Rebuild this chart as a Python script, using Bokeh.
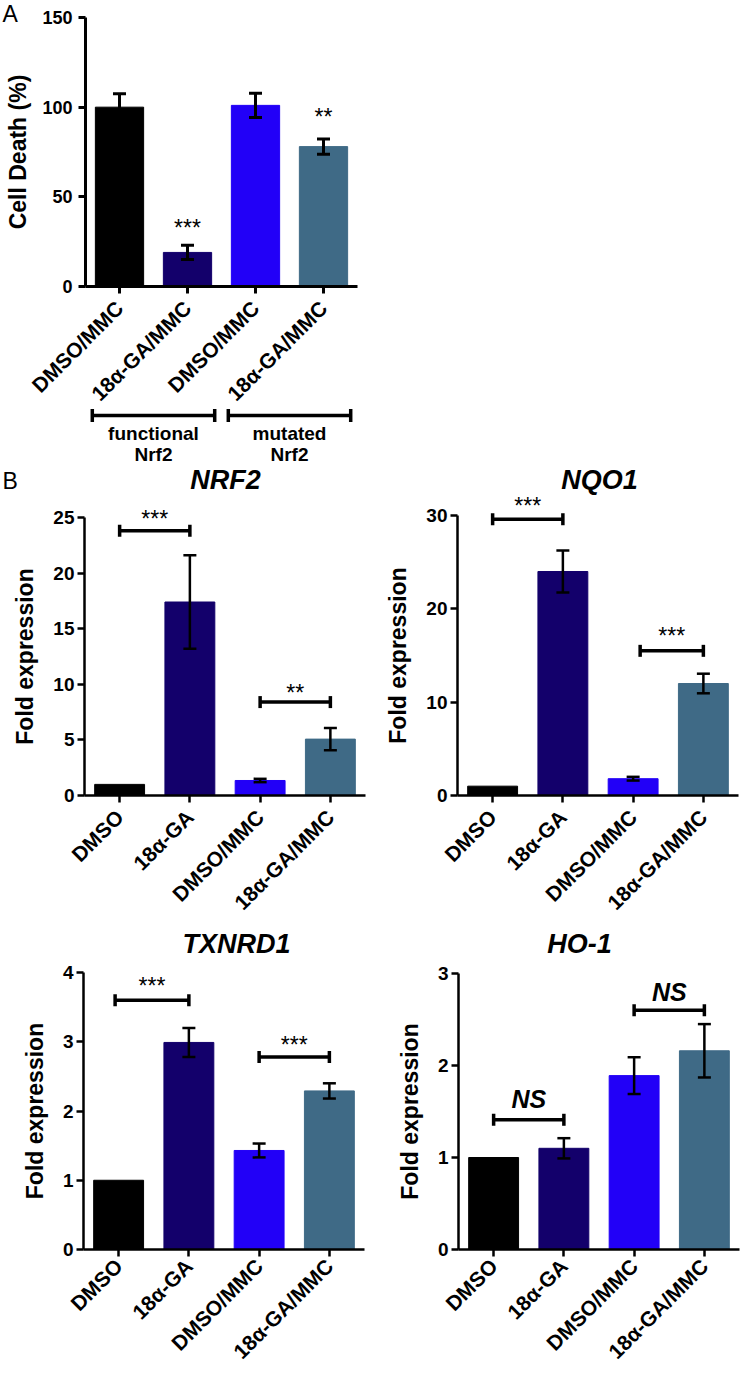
import math
from bokeh.plotting import figure
from bokeh.models import Range1d, FixedTicker, ColumnDataSource
from bokeh.layouts import column, row
from bokeh.core.properties import value
from bokeh.embed import file_html
from bokeh.resources import INLINE

FONT = "Liberation Sans"
COLORS = ["#000000", "#13006b", "#2200f7", "#3f6a86"]
XPOS = [1, 2, 3, 4]

# ---------------- Panel A data ----------------
a_labels = ["DMSO/MMC", "18α-GA/MMC", "DMSO/MMC", "18α-GA/MMC"]
a_values = [100, 19, 101, 78]
a_errors = [7.5, 4.0, 6.7, 4.2]
a_sig_x = [2, 4]
a_sig_y = [32.4, 94.3]
a_sig_text = ["***", "**"]
a_groups = ["functional", "mutated"]
a_groups_sub = ["Nrf2", "Nrf2"]
a_group_x0 = [0.6, 2.6]
a_group_x1 = [2.4, 4.4]
a_yticks = [0, 50, 100, 150]

# ---------------- Panel B data ----------------
b_labels = ["DMSO", "18α-GA", "DMSO/MMC", "18α-GA/MMC"]

nrf2_values = [1.0, 17.4, 1.35, 5.07]
nrf2_errors = [0.0, 4.2, 0.15, 1.0]
nrf2_yticks = [0, 5, 10, 15, 20, 25]
nrf2_sig = dict(x0=[1, 3], x1=[2, 4], y=[23.8, 8.4], text=["***", "**"], ty=[24.9, 9.25])

nqo1_values = [1.0, 24.0, 1.8, 12.0]
nqo1_errors = [0.0, 2.25, 0.2, 1.05]
nqo1_yticks = [0, 10, 20, 30]
nqo1_sig = dict(x0=[1, 3.1], x1=[2, 4], y=[29.6, 15.5], text=["***", "***"], ty=[31.0, 17.1])

txnrd1_values = [1.0, 2.99, 1.43, 2.29]
txnrd1_errors = [0.0, 0.21, 0.1, 0.11]
txnrd1_yticks = [0, 1, 2, 3, 4]
txnrd1_sig = dict(x0=[0.95, 3], x1=[2, 4], y=[3.6, 2.78], text=["***", "***"], ty=[3.81, 2.96])

ho1_values = [1.0, 1.10, 1.89, 2.16]
ho1_errors = [0.0, 0.11, 0.2, 0.29]
ho1_yticks = [0, 1, 2, 3]
ho1_sig = dict(x0=[1, 3], x1=[2, 4], y=[1.41, 2.6], text=["NS", "NS"], ty=[1.64, 2.8])


class Geo:
    """pixel <-> data helper for a figure whose frame fills the whole figure"""
    def __init__(self, width, height, ax_px, zero_py, ppx, ppy):
        self.w, self.h = width, height
        self.ax_px, self.zero_py, self.ppx, self.ppy = ax_px, zero_py, ppx, ppy

    def x(self, px):
        return 0.5 + (px - self.ax_px) / self.ppx

    def y(self, py):
        return (self.zero_py - py) / self.ppy

    def fig(self):
        p = figure(width=self.w, height=self.h,
                   x_range=Range1d(self.x(0), self.x(self.w)),
                   y_range=Range1d(self.y(self.h), self.y(0)),
                   output_backend="svg", toolbar_location=None,
                   min_border_left=0, min_border_right=0, min_border_top=0, min_border_bottom=0)
        p.background_fill_color = "white"
        p.border_fill_color = "white"
        p.outline_line_color = None
        p.grid.visible = False
        return p


def style_axes(p, yticks, labels, ylabel, lw, ytick_size, ystand, ylab_stand, xstand=11):
    p.xaxis.ticker = FixedTicker(ticks=XPOS)
    p.xaxis.major_label_overrides = {x: l for x, l in zip(XPOS, labels)}
    p.xaxis.major_label_orientation = math.pi / 4
    p.xaxis.fixed_location = 0
    p.xaxis.bounds = (0.5, 4.5)
    p.yaxis.ticker = FixedTicker(ticks=yticks)
    p.yaxis.bounds = (yticks[0], yticks[-1])
    p.yaxis.fixed_location = 0.5
    p.yaxis.axis_label = ylabel
    for ax in p.axis:
        ax.axis_line_width = lw
        ax.axis_line_color = "black"
        ax.major_tick_line_width = lw
        ax.major_tick_line_color = "black"
        ax.major_tick_out = 7
        ax.major_tick_in = 0
        ax.minor_tick_out = 0
        ax.minor_tick_in = 0
        ax.major_label_text_font = FONT
        ax.major_label_text_font_style = "bold"
        ax.major_label_text_color = "black"
        ax.axis_label_text_font = FONT
        ax.axis_label_text_font_style = "bold"
        ax.axis_label_text_font_size = "23px"
        ax.axis_label_text_color = "black"
    p.xaxis.major_label_text_font_size = "21px"
    p.yaxis.major_label_text_font_size = ytick_size
    p.yaxis.major_label_standoff = ystand
    p.xaxis.major_label_standoff = xstand
    p.yaxis.axis_label_standoff = ylab_stand


def bars(p, values, errors, lw, cap):
    src = ColumnDataSource(dict(x=XPOS, top=values, color=COLORS))
    p.vbar(x="x", top="top", width=0.71, fill_color="color", line_color="color", source=src)
    ex = [x for x, e in zip(XPOS, errors) if e > 0]
    lo = [v - e for v, e in zip(values, errors) if e > 0]
    hi = [v + e for v, e in zip(values, errors) if e > 0]
    p.segment(x0=ex, y0=lo, x1=ex, y1=hi, line_width=lw, line_color="black")
    p.scatter(x=ex + ex, y=lo + hi, marker="dash", size=cap, line_width=lw, line_color="black")


# ---------------- Panel A (page y 0..465) ----------------
ga = Geo(370, 465, 85, 286, 68, 269 / 150)
pa = ga.fig()
bars(pa, a_values, a_errors, 3, 13)
pa.text(x=a_sig_x, y=a_sig_y, text=a_sig_text, text_font=value(FONT), text_font_size="23px",
        text_align="center", text_baseline="middle", text_color="black")
style_axes(pa, a_yticks, a_labels, "Cell Death (%)", 3, "18px", 6, 8)
pa.text(x=[ga.x(2)], y=[ga.y(0)], text=["A"], text_font=value(FONT), text_font_size="23px",
        text_align="left", text_baseline="top")
# group brackets
gy = [ga.y(415)] * 2
pa.segment(x0=a_group_x0, y0=gy, x1=a_group_x1, y1=gy, line_width=3.5, line_color="black")
pa.scatter(x=a_group_x0 + a_group_x1, y=gy + gy, marker="dash", angle=math.pi / 2, size=13,
           line_width=3.5, line_color="black")
gx = [(a + b) / 2 for a, b in zip(a_group_x0, a_group_x1)]
pa.text(x=gx, y=[ga.y(433)] * 2, text=a_groups, text_font=value(FONT), text_font_style="bold",
        text_font_size="19px", text_align="center", text_baseline="middle")
pa.text(x=gx, y=[ga.y(454)] * 2, text=a_groups_sub, text_font=value(FONT), text_font_style="bold",
        text_font_size="19px", text_align="center", text_baseline="middle")


def panel_b(g, values, errors, yticks, sig, title, title_px, title_py, sig_italic=False, xstand=11):
    p = g.fig()
    bars(p, values, errors, 2.5, 13)
    data = dict(sig)
    data["mx"] = [(a + b) / 2 for a, b in zip(sig["x0"], sig["x1"])]
    src = ColumnDataSource(data)
    p.segment(x0="x0", y0="y", x1="x1", y1="y", line_width=3.5, line_color="black", source=src)
    p.scatter(x=sig["x0"] + sig["x1"], y=sig["y"] + sig["y"], marker="dash", angle=math.pi / 2,
              size=12, line_width=3.5, line_color="black")
    if sig_italic:
        p.text(x="mx", y="ty", text="text", source=src,
               text_font=value(FONT), text_font_style="bold italic", text_font_size="25px",
               text_align="center", text_baseline="middle")
    else:
        p.text(x="mx", y="ty", text="text", source=src,
               text_font=value(FONT), text_font_size="23px",
               text_align="center", text_baseline="middle")
    p.text(x=[g.x(title_px)], y=[g.y(title_py)], text=[title], text_font=value(FONT),
           text_font_style="bold italic", text_font_size="27px", text_align="center",
           text_baseline="middle")
    style_axes(p, yticks, b_labels, "Fold expression", 2.5, "19px", 3, 12, xstand)
    return p


# row 2: page y 465..930 (zero line at page 795 -> local 330)
g_nrf2 = Geo(370, 465, 84, 330, 281 / 4, 278 / 25)
p_nrf2 = panel_b(g_nrf2, nrf2_values, nrf2_errors, nrf2_yticks, nrf2_sig, "NRF2", 225, 14)
p_nrf2.text(x=[g_nrf2.x(2)], y=[g_nrf2.y(2)], text=["B"], text_font=value(FONT),
            text_font_size="23px", text_align="left", text_baseline="top")
g_nqo1 = Geo(372, 465, 87, 330, 281 / 4, 280 / 30)
p_nqo1 = panel_b(g_nqo1, nqo1_values, nqo1_errors, nqo1_yticks, nqo1_sig, "NQO1", 229, 14)

# row 3: page y 930..1370 (zero line at page 1249 -> local 319)
g_txn = Geo(370, 440, 83, 319, 281 / 4, 277 / 4)
p_txn = panel_b(g_txn, txnrd1_values, txnrd1_errors, txnrd1_yticks, txnrd1_sig, "TXNRD1", 236, 13,
                xstand=6)
g_ho1 = Geo(372, 440, 88, 319, 281 / 4, 276 / 3)
p_ho1 = panel_b(g_ho1, ho1_values, ho1_errors, ho1_yticks, ho1_sig, "HO-1", 209, 13, sig_italic=True,
                xstand=6)

layout = column(pa, row(p_nrf2, p_nqo1), row(p_txn, p_ho1))
open("out.html", "w").write(file_html(layout, INLINE))
